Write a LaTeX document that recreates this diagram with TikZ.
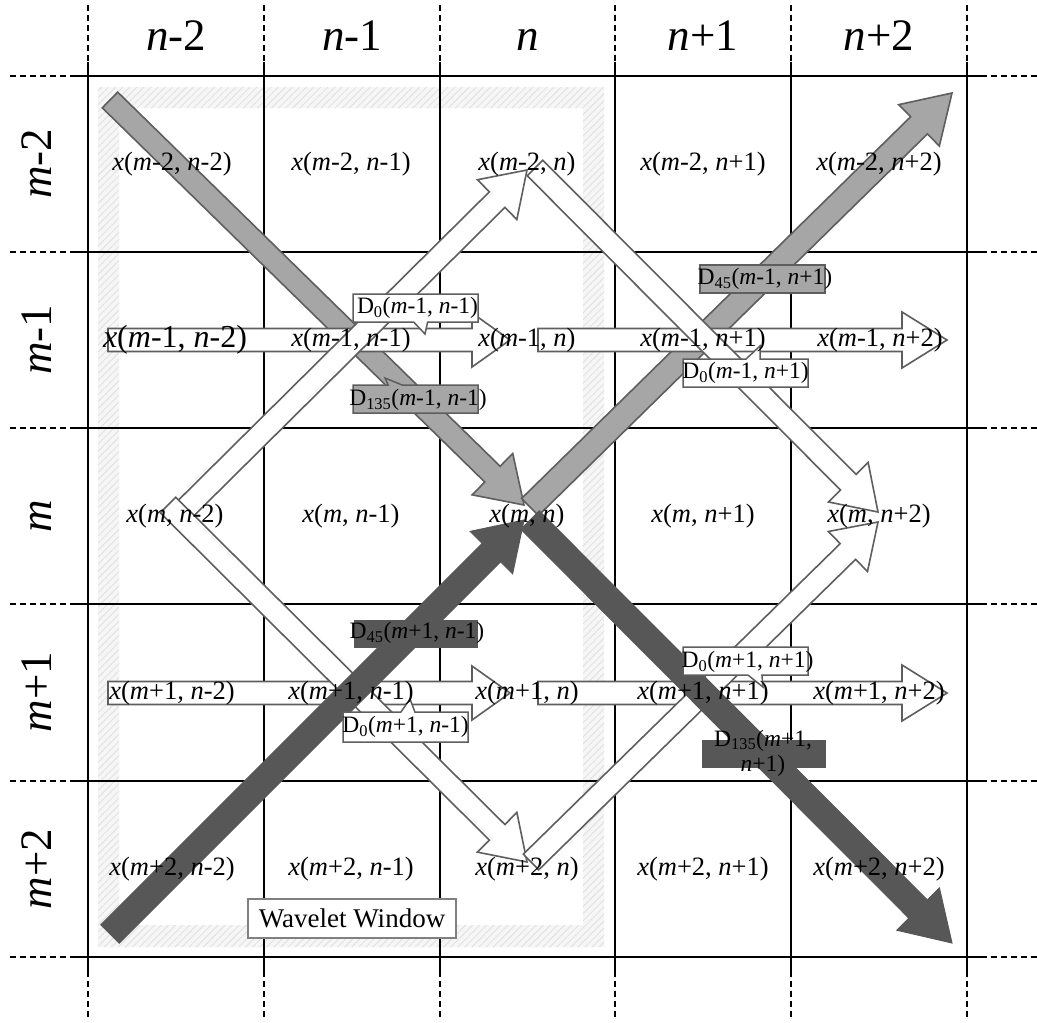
\documentclass[tikz,border=0pt]{standalone}
\usepackage{fontspec}
\setmainfont{Liberation Serif}
\usetikzlibrary{calc,shapes.callouts,patterns.meta}

\definecolor{lgray}{HTML}{A6A6A6}
\definecolor{dgray}{HTML}{575757}
\definecolor{edgegray}{HTML}{5E5E5E}

\newcommand{\xl}[2]{\textit{x}(\textit{m}#1, \textit{n}#2)}
\newcommand{\dl}[3]{D\textsubscript{#1}(\textit{m}#2, \textit{n}#3)}

\newcommand{\blockarrow}[6]{%
  \path[#1] let \p1=(#2), \p2=(#3),
     \n1={atan2(\y2-\y1,\x2-\x1)}, \n2={veclen(\x2-\x1,\y2-\y1)} in
     ($(\p1)+(\n1+90:#4/2)$) --
     ($(\p1)+(\n1:{\n2*1pt-#6})+(\n1+90:#4/2)$) --
     ($(\p1)+(\n1:{\n2*1pt-#6})+(\n1+90:#5/2)$) --
     (\p2) --
     ($(\p1)+(\n1:{\n2*1pt-#6})+(\n1-90:#5/2)$) --
     ($(\p1)+(\n1:{\n2*1pt-#6})+(\n1-90:#4/2)$) --
     ($(\p1)+(\n1-90:#4/2)$) -- cycle;
}

\tikzset{
  gridline/.style={line width=2pt, black},
  dashline/.style={line width=2pt, black, dash pattern=on 6pt off 4pt},
  celltext/.style={font=\fontsize{26.5}{29}\selectfont, inner sep=0pt},
  bigcell/.style={font=\fontsize{32}{34}\selectfont, inner sep=0pt},
  headtext/.style={font=\fontsize{45}{48}\selectfont, inner sep=0pt, anchor=base},
  whitearrow/.style={fill=white, draw=edgegray, line width=1.6pt, line join=miter},
  lightarrow/.style={fill=lgray, draw=edgegray, line width=1.6pt, line join=miter},
  darkarrow/.style={fill=dgray, draw=dgray, line width=1pt, line join=miter},
  dwhite/.style={rectangle callout, fill=white, draw=edgegray, line width=1.5pt,
     minimum width=125pt, minimum height=28pt, inner sep=0pt, callout pointer width=14pt},
  dlight/.style={rectangle, fill=lgray, draw=edgegray, line width=1.5pt,
     minimum width=125pt, minimum height=28pt, inner sep=0pt},
  dlightc/.style={rectangle callout, fill=lgray, draw=edgegray, line width=1.5pt,
     minimum width=125pt, minimum height=28pt, inner sep=0pt, callout pointer width=14pt},
  ddark/.style={rectangle, fill=dgray, draw=dgray, minimum width=123pt,
     minimum height=27pt, inner sep=0pt},
  dtext/.style={font=\fontsize{23.5}{25}\selectfont, inner sep=0pt},
  winbox/.style={rectangle, fill=white, draw=gray, line width=1.5pt,
     minimum width=208pt, minimum height=39pt, inner sep=0pt,
     font=\fontsize{27}{29}\selectfont},
}

\begin{document}
\begin{tikzpicture}[x=1pt, y=-1pt]
\useasboundingbox (0,0) rectangle (1037,1023);
\fill[white] (0,0) rectangle (1037,1023);

% wavelet window hatched frame
\fill[gray!7, even odd rule] (98,87) rectangle (604,947) (119,108) rectangle (583,925);
\fill[pattern={Lines[angle=45,distance=5pt,line width=0.8pt]}, pattern color=gray!25, even odd rule]
  (98,87) rectangle (604,947) (119,108) rectangle (583,925);

% grid
\foreach \x in {88,264,440,615,791,967} {
  \draw[gridline] (\x,62) -- (\x,971);
  \draw[dashline] (\x,5) -- (\x,62);
  \draw[dashline] (\x,971) -- (\x,1020);
}
\foreach \y in {76,252,428,604,781,957} {
  \draw[gridline] (74,\y) -- (981,\y);
  \draw[dashline] (10,\y) -- (74,\y);
  \draw[dashline] (981,\y) -- (1037,\y);
}

% arrow end points
\coordinate (h1S) at (108,340); \coordinate (h1E) at (510,340);
\coordinate (h2S) at (538,340); \coordinate (h2E) at (947,340);
\coordinate (h3S) at (108,693); \coordinate (h3E) at (510,693);
\coordinate (h4S) at (538,693); \coordinate (h4E) at (947,693);
\coordinate (w1S) at (172,522); \coordinate (w1E) at (527,170);
\coordinate (w2S) at (168,505); \coordinate (w2E) at (527,862);
\coordinate (w3S) at (535,168); \coordinate (w3E) at (878,512);
\coordinate (w4S) at (531,862); \coordinate (w4E) at (878,522);
\coordinate (nwS) at (110,100); \coordinate (nwE) at (524,505);
\coordinate (neS) at (530,507); \coordinate (neE) at (952,93);
\coordinate (swS) at (110,934); \coordinate (swE) at (524,520);
\coordinate (seS) at (530,520); \coordinate (seE) at (952,943);

% light big arrows (beneath the white ones)
\blockarrow{lightarrow}{nwS}{nwE}{22pt}{58pt}{44pt}
\blockarrow{lightarrow}{neS}{neE}{24pt}{58pt}{46pt}

% white arrows
\blockarrow{whitearrow}{h1S}{h1E}{23pt}{54pt}{38pt}
\blockarrow{whitearrow}{h2S}{h2E}{23pt}{56pt}{45pt}
\blockarrow{whitearrow}{h3S}{h3E}{23pt}{54pt}{38pt}
\blockarrow{whitearrow}{h4S}{h4E}{23pt}{56pt}{45pt}
\blockarrow{whitearrow}{w1S}{w1E}{22pt}{56pt}{42pt}
\blockarrow{whitearrow}{w2S}{w2E}{22pt}{56pt}{42pt}
\blockarrow{whitearrow}{w3S}{w3E}{22pt}{56pt}{42pt}
\blockarrow{whitearrow}{w4S}{w4E}{22pt}{56pt}{42pt}

% dark big arrows
\blockarrow{darkarrow}{swS}{swE}{26pt}{60pt}{46pt}
\blockarrow{darkarrow}{seS}{seE}{26pt}{60pt}{48pt}

% D boxes
\node[dwhite, callout absolute pointer={(425,334)}] (b1) at (415.5,308) {};
\node[dlightc, callout absolute pointer={(385,378)}] (b2) at (415.5,399) {};
\node[dlight] (b3) at (762.5,279) {};
\node[dwhite, callout absolute pointer={(760,346)}] (b4) at (745.5,373) {};
\node[ddark] (b5) at (415.5,633.5) {};
\node[dwhite, callout absolute pointer={(410,699)}, minimum height=30pt] (b6) at (405.5,727) {};
\node[dwhite, callout absolute pointer={(763,687)}] (b7) at (745.5,661) {};
\node[ddark] (b8) at (763.5,753.5) {};

% wavelet window label
\node[winbox] (win) at (352,918.5) {Wavelet Window};

% cell texts
\node[celltext] (c11) at (172,164) {\xl{-2}{-2}};
\node[celltext] (c12) at (351,164) {\xl{-2}{-1}};
\node[celltext] (c13) at (527,164) {\xl{-2}{}};
\node[celltext] (c14) at (703,164) {\xl{-2}{+1}};
\node[celltext] (c15) at (879,164) {\xl{-2}{+2}};
\node[bigcell]  (c21) at (175,340) {\xl{-1}{-2}};
\node[celltext] (c22) at (351,340) {\xl{-1}{-1}};
\node[celltext] (c23) at (527,340) {\xl{-1}{}};
\node[celltext] (c24) at (703,340) {\xl{-1}{+1}};
\node[celltext] (c25) at (880,340) {\xl{-1}{+2}};
\node[celltext] (c31) at (175,516) {\xl{}{-2}};
\node[celltext] (c32) at (351,516) {\xl{}{-1}};
\node[celltext] (c33) at (527,516) {\xl{}{}};
\node[celltext] (c34) at (703,516) {\xl{}{+1}};
\node[celltext] (c35) at (879,516) {\xl{}{+2}};
\node[celltext] (c41) at (172,693) {\xl{+1}{-2}};
\node[celltext] (c42) at (351,693) {\xl{+1}{-1}};
\node[celltext] (c43) at (527,693) {\xl{+1}{}};
\node[celltext] (c44) at (703,693) {\xl{+1}{+1}};
\node[celltext] (c45) at (879,693) {\xl{+1}{+2}};
\node[celltext] (c51) at (172,869) {\xl{+2}{-2}};
\node[celltext] (c52) at (351,869) {\xl{+2}{-1}};
\node[celltext] (c53) at (527,869) {\xl{+2}{}};
\node[celltext] (c54) at (703,869) {\xl{+2}{+1}};
\node[celltext] (c55) at (879,869) {\xl{+2}{+2}};

% D texts
\node[dtext] (t1) at (417.5,308) {\dl{0}{-1}{-1}};
\node[dtext] (t2) at (418,400) {\dl{135}{-1}{-1}};
\node[dtext] (t3) at (765,279) {\dl{45}{-1}{+1}};
\node[dtext] (t4) at (745.5,373) {\dl{0}{-1}{+1}};
\node[dtext] (t5) at (417,633) {\dl{45}{+1}{-1}};
\node[dtext] (t6) at (405.5,727) {\dl{0}{+1}{-1}};
\node[dtext] (t7) at (747.5,662) {\dl{0}{+1}{+1}};
\node[dtext, align=center] (t8) at (763,753) {D\textsubscript{135}(\textit{m}+1,\\\textit{n}+1)};

% headers
\node[headtext] (hn1) at (176,50) {\textit{n}-2};
\node[headtext] (hn2) at (352,50) {\textit{n}-1};
\node[headtext] (hn3) at (527.5,50) {\textit{n}};
\node[headtext] (hn4) at (703,50) {\textit{n}+1};
\node[headtext] (hn5) at (879,50) {\textit{n}+2};
\node[headtext, rotate=90] (hm1) at (51,164) {\textit{m}-2};
\node[headtext, rotate=90] (hm2) at (51,340) {\textit{m}-1};
\node[headtext, rotate=90] (hm3) at (51,516) {\textit{m}};
\node[headtext, rotate=90] (hm4) at (51,692) {\textit{m}+1};
\node[headtext, rotate=90] (hm5) at (51,869) {\textit{m}+2};
\end{tikzpicture}
\end{document}
